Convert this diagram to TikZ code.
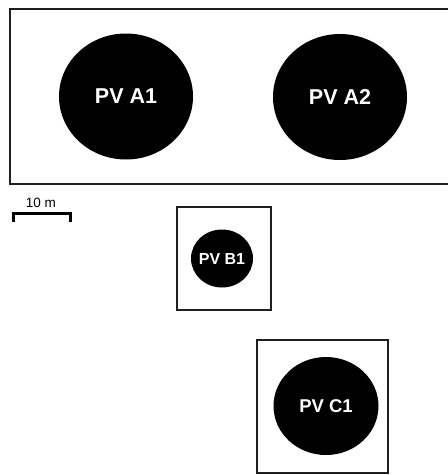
\documentclass[tikz,border=0pt]{standalone}
\usepackage{fontspec}
\setmainfont{Liberation Sans}
\usetikzlibrary{shapes.geometric}
\tikzset{
  site/.style={draw=black!88,line width=1.9pt,fill=white,inner sep=0pt},
  pv/.style={ellipse,fill=black,text=white,inner sep=-12pt},
}
\begin{document}
\begin{tikzpicture}[x=1pt,y=-1pt]
\useasboundingbox (0,0) rectangle (448,475);
\node[site,minimum width=441pt,minimum height=175pt] (siteA) at (230.5,96.5) {};
\node[site,minimum width=94pt,minimum height=103pt] (siteB) at (224,258.5) {};
\node[site,minimum width=131pt,minimum height=133pt] (siteC) at (322.5,406.5) {};
\node[pv,minimum width=134pt,minimum height=126pt,font=\bfseries\fontsize{21.5}{24}\selectfont] (a1) at (126,96.5) {PV A1};
\node[pv,minimum width=134pt,minimum height=126pt,font=\bfseries\fontsize{21.5}{24}\selectfont] (a2) at (340,97) {PV A2};
\node[pv,minimum width=62pt,minimum height=58pt,font=\bfseries\fontsize{16}{18}\selectfont] (b1) at (222,258.5) {PV B1};
\node[pv,minimum width=105pt,minimum height=98pt,font=\bfseries\fontsize{18.5}{20}\selectfont] (c1) at (326,406) {PV C1};
\coordinate (sl) at (13.5,213.5);
\coordinate (sr) at (70.5,213.5);
\draw[line width=2.3pt] ([yshift=-8pt]sl) -- (sl) -- (sr) -- ([yshift=-8pt]sr);
\node[font=\fontsize{13.5}{14}\selectfont,inner sep=0pt] (scale) at (41,203) {10 m};
\end{tikzpicture}
\end{document}
